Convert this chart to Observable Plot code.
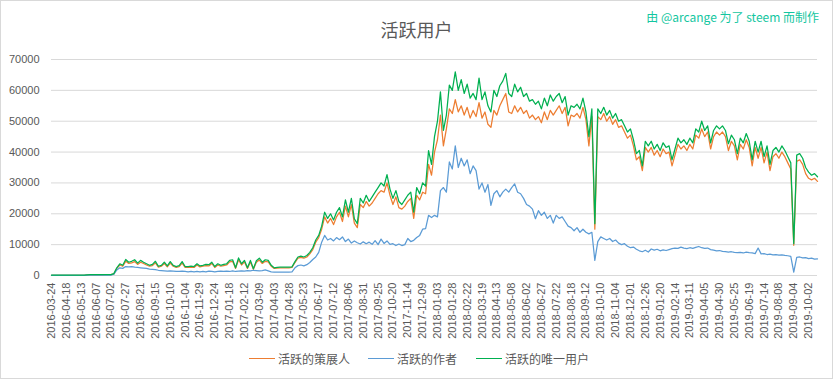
<!DOCTYPE html>
<html><head><meta charset="utf-8">
<script src="https://cdn.jsdelivr.net/npm/d3@7"></script>
<script src="https://cdn.jsdelivr.net/npm/@observablehq/plot@0.6"></script>
<style>
body{margin:0;background:#fff;}
#wrap{position:relative;width:833px;height:379px;overflow:hidden;font-family:"Noto Sans CJK SC","Liberation Sans",sans-serif;color:#595959;}
#wrap svg{position:absolute;left:0;top:0;}
#border{position:absolute;left:0;top:0;width:833px;height:379px;box-sizing:border-box;border:1px solid #d9d9d9;pointer-events:none;}
#title{position:absolute;left:0;top:16px;width:833px;text-align:center;font-size:18px;line-height:26px;color:#595959;}
#credit{position:absolute;right:14px;top:8px;font-size:12px;line-height:18px;color:#12c6a0;white-space:nowrap;}
.lg{position:absolute;top:350px;font-size:12px;line-height:18px;white-space:nowrap;color:#595959;}
.sw{position:absolute;top:358px;height:0;border-top:1.5px solid;}
</style></head>
<body><div id="wrap">
<div id="title">活跃用户</div>
<div id="credit">由 @arcange 为了 steem 而制作</div>
</div>
<script>
// x-axis tick labels (every 25th daily category)
const tickLabels = ["2016-03-24","2016-04-18","2016-05-13","2016-06-07","2016-07-02","2016-07-27","2016-08-21","2016-09-15","2016-10-10","2016-11-04","2016-11-29","2016-12-24",
"2017-01-18","2017-02-12","2017-03-09","2017-04-03","2017-04-28","2017-05-23","2017-06-17","2017-07-12","2017-08-06","2017-08-31","2017-09-25","2017-10-20","2017-11-14","2017-12-09",
"2018-01-03","2018-01-28","2018-02-22","2018-03-19","2018-04-13","2018-05-08","2018-06-02","2018-06-27","2018-07-22","2018-08-18","2018-09-12","2018-10-10","2018-11-04","2018-12-01","2018-12-26",
"2019-01-20","2019-02-14","2019-03-11","2019-04-05","2019-04-30","2019-05-25","2019-06-19","2019-07-14","2019-08-08","2019-09-04","2019-10-02"];
const seriesNames = ["活跃的策展人","活跃的作者","活跃的唯一用户"];
const seriesColors = ["#ed7d31","#5b9bd5","#00b050"];
const yTicks = [0,10000,20000,30000,40000,50000,60000,70000];

// sampled every 5th daily category
const curators = [
80,80,80,80,80,80,80,80,80,80,
80,80,180,220,220,230,240,240,250,250,
270,500,2300,3400,3000,4600,3900,4100,4500,3600,
4300,3900,3400,3000,3200,4100,2700,3000,3900,2800,
4000,3000,2600,2900,4000,2600,2600,2700,2600,3400,
2800,3000,3200,3100,3900,2600,3400,3000,3200,3400,
4400,4600,2300,5100,3400,4400,2300,4400,2000,4300,
5000,3900,4600,4400,3000,2300,2400,2500,2500,2500,
2500,2600,4200,5600,5900,5600,6000,7000,8400,10800,
12300,15000,19000,17000,18500,16500,19000,20500,17500,22500,
19000,23000,17000,15500,23000,22000,24000,22500,23500,25000,
26500,27500,27000,30000,26000,23000,25500,22000,21500,22500,
24000,25000,18500,26000,24500,27000,26500,36000,32500,40000,
44000,52000,42000,47500,54000,52500,57000,53000,55000,52000,
54500,51000,53500,51500,56000,51000,53000,49000,48000,53500,
52000,55000,57000,59000,53000,52500,55000,53000,54500,52500,
53500,51000,52000,50500,51500,49500,53000,50500,53500,52000,
53500,55000,52500,54500,48500,52000,51500,52500,51000,54500,
50500,42000,51500,15000,51500,50500,52500,50000,51500,49000,
50500,48000,48500,46500,44500,45500,42000,37500,38500,34000,
41500,40000,41500,39000,40500,38500,41000,39500,40000,35500,
39000,42500,41000,42000,40500,42500,41000,45500,44500,47500,
45000,46500,41000,45000,46500,45500,46500,45000,40500,43500,
42000,37500,42500,41000,44000,41500,35500,41500,38000,41500,
36500,40000,34000,38500,39500,38000,40000,38500,36500,34500,
9800,37000,37500,36000,33000,31500,31000,31500,30500];

const authors = [
50,50,50,50,50,50,50,50,50,50,
50,50,150,150,150,150,150,150,150,150,
150,400,1800,2500,2300,2900,2800,2900,2700,2600,
2500,2400,2300,2100,2000,1900,1700,1600,1500,1400,
1500,1400,1300,1300,1400,1300,1200,1300,1200,1300,
1200,1300,1200,1400,1300,1200,1300,1400,1300,1400,
1300,1500,1300,1400,1500,1400,1600,1500,1700,1600,
1500,1600,1800,1500,1200,1100,1100,1100,1100,1100,
1100,1200,2500,3200,3400,3100,3500,4200,5200,6000,
7500,10800,13000,11500,12000,11200,12300,11600,12500,11000,
11800,10500,11200,10600,10200,10900,10300,10800,10100,11300,
10000,11800,10400,11200,10100,10300,9700,10200,9700,10000,
12000,11000,11400,12300,13000,15000,15200,19500,18800,19500,
19000,27500,28500,27000,36800,34500,42000,35000,38000,35500,
37500,33000,35500,34000,28000,30000,27000,29500,22700,26500,
27500,25500,27000,28000,27000,28500,29700,27000,26500,25000,
23000,22500,21500,18400,21000,19500,20500,18500,19500,17000,
19500,18500,19000,17500,16000,15500,14500,15500,14000,15000,
14000,13500,14000,4900,11000,12500,12000,11500,12000,11000,
11500,10500,10000,10300,9500,9000,9200,8500,8000,7700,
8200,7600,8600,8200,8500,8000,8300,8100,8400,8700,
8900,8800,9200,8900,8700,9000,8800,9100,9400,9000,
8800,8900,8400,8200,8000,8100,7800,7700,7600,7700,
7500,7400,7500,7300,7600,7400,7300,7100,8900,7000,
7100,6800,6900,6700,6800,6600,6700,6500,6400,6200,
1100,5900,6000,5700,5800,5500,5600,5300,5400];

const uniqueUsers = [
100,100,100,100,100,100,100,100,100,100,
100,100,200,250,250,260,270,270,280,280,
300,600,2500,3800,3300,5200,4300,4600,5100,4000,
4900,4300,3800,3300,3600,4600,3000,3300,4300,3100,
4500,3300,2900,3200,4500,2900,2900,3000,2900,3800,
3100,3300,3600,3500,4300,2900,3800,3300,3600,3800,
4900,5100,2500,5700,3800,4900,2500,4900,2200,4800,
5600,4300,5100,4900,3300,2500,2600,2700,2700,2700,
2700,2800,4500,6000,6300,6000,6500,7500,9000,11500,
13000,16000,20500,18500,20000,18000,20500,22000,19000,24500,
20500,25000,18400,16800,25000,23500,26000,24000,25500,27000,
28500,30000,29000,32700,28000,25000,27500,24000,23000,24500,
26000,27000,20500,28500,26500,30000,29000,40500,36000,45000,
50000,59500,47000,52000,61700,60000,66000,60000,63500,59000,
62000,57500,59000,57000,64000,57000,59500,55000,53000,60000,
58000,61500,63000,65500,59000,58000,62000,59500,61000,58000,
59000,56500,57000,55500,56500,54000,57500,55000,58500,56500,
58000,59000,56000,58000,52000,55000,54500,55500,54000,57500,
53000,45000,54000,16800,54000,52500,54500,52000,53500,51000,
52500,50000,50500,48500,46500,47500,44000,39500,40500,35500,
43500,42000,43500,41000,42500,40500,43000,41500,42000,37500,
41000,44500,43000,44000,42500,44500,43000,47500,46500,50000,
47000,48500,43000,47000,48500,47500,48500,47000,42700,45500,
44000,39500,44500,43000,46000,43500,37500,43500,40000,43500,
38500,42000,36000,40500,41500,40000,42000,40500,38500,36500,
10300,39000,39500,38000,35000,33500,32500,33000,32000];

const rows = curators.map((v, k) => ({k, curator: v, author: authors[k], unique: uniqueUsers[k]}));
const tickPos = tickLabels.map((_, j) => j * 5);

const chart = Plot.plot({
  width: 833, height: 379,
  marginLeft: 51, marginRight: 16, marginTop: 59, marginBottom: 104,
  style: {fontFamily: "'Liberation Sans', Arial, sans-serif", fontSize: "11px", color: "#595959", background: "transparent", overflow: "visible"},
  x: {type: "linear", domain: [0, curators.length - 1]},
  y: {domain: [0, 70000]},
  marks: [
    Plot.gridY(yTicks, {stroke: "#d9d9d9", strokeOpacity: 1, strokeWidth: 1}),
    Plot.axisY(yTicks, {tickSize: 0, tickPadding: 12, tickFormat: d => String(d), label: null, fill: "#595959"}),
    Plot.axisX(tickPos, {tickSize: 0, tickPadding: 7, tickRotate: -90, tickFormat: d => tickLabels[d / 5], label: null, fill: "#595959"}),
    Plot.lineY(rows, {x: "k", y: "curator", stroke: seriesColors[0], strokeWidth: 1.25}),
    Plot.lineY(rows, {x: "k", y: "author", stroke: seriesColors[1], strokeWidth: 1.25}),
    Plot.lineY(rows, {x: "k", y: "unique", stroke: seriesColors[2], strokeWidth: 1.25})
  ]
});
const wrap = document.getElementById("wrap");
wrap.insertBefore(chart, wrap.firstChild);

// legend
const lgPos = [[249, 278], [368, 397], [476, 505]];
seriesNames.forEach((name, i) => {
  const sw = document.createElement("div");
  sw.className = "sw";
  sw.style.left = lgPos[i][0] + "px";
  sw.style.width = "26px";
  sw.style.borderColor = seriesColors[i];
  wrap.appendChild(sw);
  const t = document.createElement("div");
  t.className = "lg";
  t.style.left = lgPos[i][1] + "px";
  t.textContent = name;
  wrap.appendChild(t);
});
const b = document.createElement("div");
b.id = "border";
wrap.appendChild(b);
</script>
</body></html>
